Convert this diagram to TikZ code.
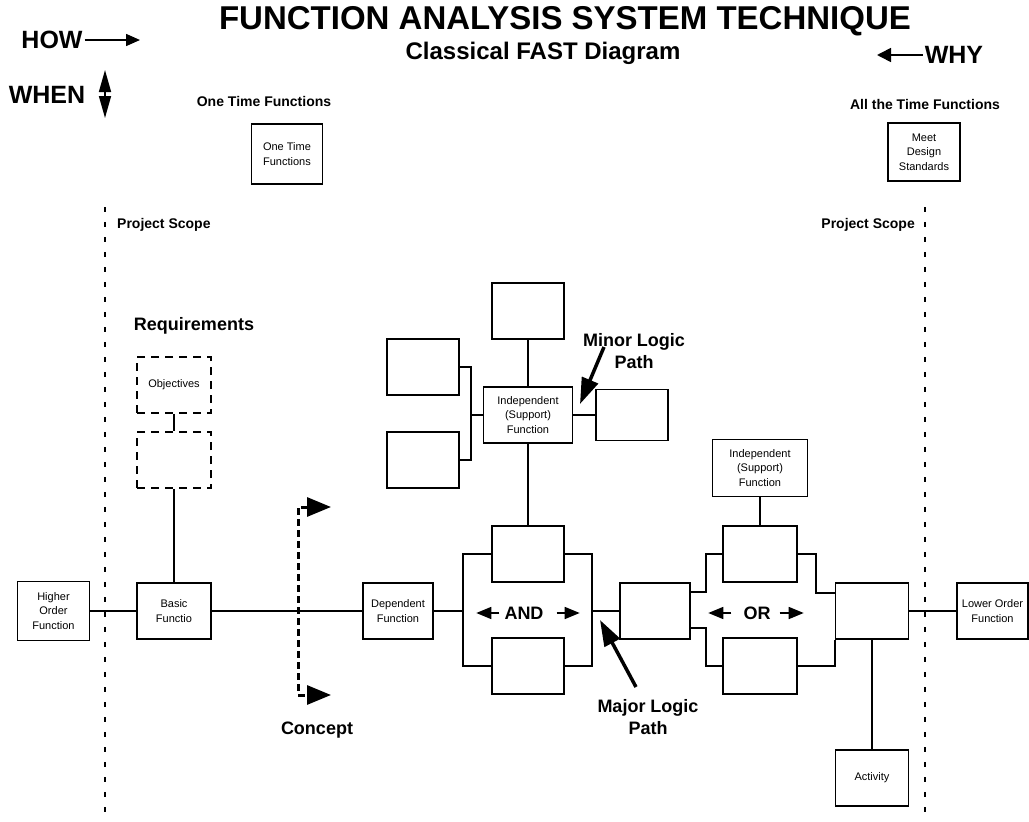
\documentclass[tikz,border=0pt]{standalone}
\usepackage{fontspec}
\setmainfont{Liberation Sans}
\usetikzlibrary{arrows.meta}

\tikzset{
  fn/.style={draw, line width=1.6pt, minimum width=72pt, minimum height=56pt, inner sep=2pt, align=center, font=\fontsize{11}{14.5}\selectfont},
  dfn/.style={fn, dash pattern=on 8pt off 6pt},
  lbl/.style={font=\fontsize{18}{22}\selectfont\bfseries, align=center, inner sep=2pt},
  hdr/.style={font=\fontsize{14}{17}\selectfont\bfseries, inner sep=2pt},
  dirlbl/.style={font=\fontsize{25}{30}\selectfont\bfseries, inner sep=2pt},
  ln/.style={line width=1.6pt},
  scopeline/.style={line width=2.2pt, dash pattern=on 5pt off 10pt},
  conceptline/.style={line width=3pt, dash pattern=on 7pt off 4pt},
  logic/.style={line width=3.5pt, -{Triangle[length=26pt,width=17pt]}},
  smallarrow/.style={ln, -{Triangle[length=15pt,width=12pt]}},
}

\begin{document}
\begin{tikzpicture}[x=1pt,y=-1pt]
\useasboundingbox (0,0) rectangle (1029,822);

% project scope
\draw[scopeline] (105,207) -- (105,822);
\draw[scopeline] (925,207) -- (925,822);

\node[font=\fontsize{33}{38}\selectfont\bfseries] (titletext) at (565,21) {FUNCTION ANALYSIS SYSTEM TECHNIQUE};
\node[font=\fontsize{24}{28}\selectfont\bfseries] (subtitle) at (543,53) {Classical FAST Diagram};

\node[dirlbl] (how) at (52,40) {HOW};
\node[dirlbl] (when) at (47,95) {WHEN};
\node[dirlbl] (why) at (954,55) {WHY};
\coordinate (howtip) at (140,40);
\coordinate (whentop) at (105,70);
\coordinate (whenbot) at (105,118);
\coordinate (whytip) at (877,55);
\draw[ln,-{Triangle[length=14pt,width=12pt]}] (how) -- (howtip);
\draw[ln,{Triangle[length=22pt,width=12pt]}-{Triangle[length=22pt,width=12pt]}] (whentop) -- (whenbot);
\draw[ln,-{Triangle[length=14pt,width=14pt]}] (why) -- (whytip);

\node[hdr] (onetimelbl) at (264,101) {One Time Functions};
\node[hdr] (alltimelbl) at (925,104) {All the Time Functions};
\node[fn, minimum width=71pt, minimum height=60pt] (onetime) at (287,154) {One Time\\Functions};
\node[fn, minimum height=58pt] (design) at (924,152) {Meet\\Design\\Standards};
\node[hdr, anchor=west] (scopeleft) at (115,225) {Project Scope};
\node[hdr, anchor=east] (scoperight) at (917,225) {Project Scope};

% requirements
\node[lbl] (reqlbl) at (194,326) {Requirements};
\node[dfn, minimum width=74pt] (objectives) at (174,385) {Objectives};
\node[dfn, minimum width=74pt] (req) at (174,460) {};

% major logic path
\node[fn, minimum height=59pt] (higher) at (53.5,611) {Higher\\Order\\Function};
\node[fn, minimum width=74pt] (basic) at (174,611) {Basic\\Functio};
\node[fn, minimum width=70pt] (dependent) at (398,611) {Dependent\\Function};
\node[fn] (andtop) at (528,554) {};
\node[fn] (andbot) at (528,666) {};
\node[fn, minimum width=70pt] (mid) at (655,611) {};
\node[fn, minimum width=74pt] (ortop) at (760,554) {};
\node[fn, minimum width=74pt] (orbot) at (760,666) {};
\node[fn, minimum width=73pt] (last) at (872,611) {};
\node[fn, minimum width=71pt] (lower) at (992.5,611) {Lower Order\\Function};
\node[fn, minimum width=73pt] (activity) at (872,778) {Activity};

% supporting functions
\node[fn, minimum width=95pt, minimum height=57pt] (orsupport) at (760,468) {Independent\\(Support)\\Function};
\node[fn, minimum width=89pt] (support) at (528,415) {Independent\\(Support)\\Function};
\node[fn] (supptop) at (528,311) {};
\node[fn, minimum height=51pt] (suppright) at (632,415) {};
\node[fn] (suppleft1) at (423,367) {};
\node[fn] (suppleft2) at (423,460) {};

\node[lbl] (andlbl) at (524,613) {AND};
\node[lbl] (orlbl) at (757,613) {OR};
\node[lbl] (concept) at (317,730) {Concept};
\node[lbl] (major) at (648,717) {Major Logic\\Path};
\node[lbl] (minor) at (634,351) {Minor Logic\\Path};

\draw[ln] (objectives) -- (req);
\draw[ln] (req) -- (basic);
\draw[ln] (higher) -- (basic);
\draw[ln] (basic) -- (dependent);

\coordinate (andin) at (463,611);
\coordinate (andout) at (592,611);
\draw[ln] (dependent) -- (andin);
\draw[ln] (andtop.west) -| (andin) |- (andbot.west);
\draw[ln] (andtop.east) -| (andout) |- (andbot.east);
\draw[ln] (andout) -- (mid);

\coordinate (orin) at (706,611);
\coordinate (orout) at (816,593);
\draw[ln] ([yshift=19pt]mid.east) -| (orin |- ortop.west) -- (ortop.west);
\draw[ln] ([yshift=-17pt]mid.east) -| (orin |- orbot.west) -- (orbot.west);
\draw[ln] (ortop.east) -| (orout) -- (orout -| last.west);
\draw[ln] (orbot.east) -| (last.south west);
\draw[ln] (last) -- (lower);
\draw[ln] (last) -- (activity);

\draw[ln] (andtop) -- (support);
\draw[ln] (supptop) -- (support);
\draw[ln] (support) -- (suppright);
\coordinate (suppin) at (471,415);
\draw[ln] (suppleft1.east) -| (suppin) |- (suppleft2.east);
\draw[ln] (suppin) -- (support);
\draw[ln] (orsupport) -- (ortop);

\draw[smallarrow] (andlbl.west) ++(-3,0) -- ++(-23,0);
\draw[smallarrow] (andlbl.east) ++(11,0) -- ++(23,0);
\draw[smallarrow] (orlbl.west) ++(-10,0) -- ++(-23,0);
\draw[smallarrow] (orlbl.east) ++(7,0) -- ++(24,0);

\coordinate (concepttop) at (331,507);
\coordinate (conceptbot) at (331,695);
\draw[conceptline, {Triangle[length=24pt,width=19pt]}-{Triangle[length=24pt,width=19pt]}] (concepttop) -- ++(-33,0) |- (conceptbot);

\coordinate (majortail) at (636,687);
\coordinate (majortip) at (600,620);
\draw[logic] (majortail) -- (majortip);
\coordinate (minortail) at (604,347);
\coordinate (minortip) at (580,404);
\draw[logic] (minortail) -- (minortip);

\end{tikzpicture}
\end{document}
